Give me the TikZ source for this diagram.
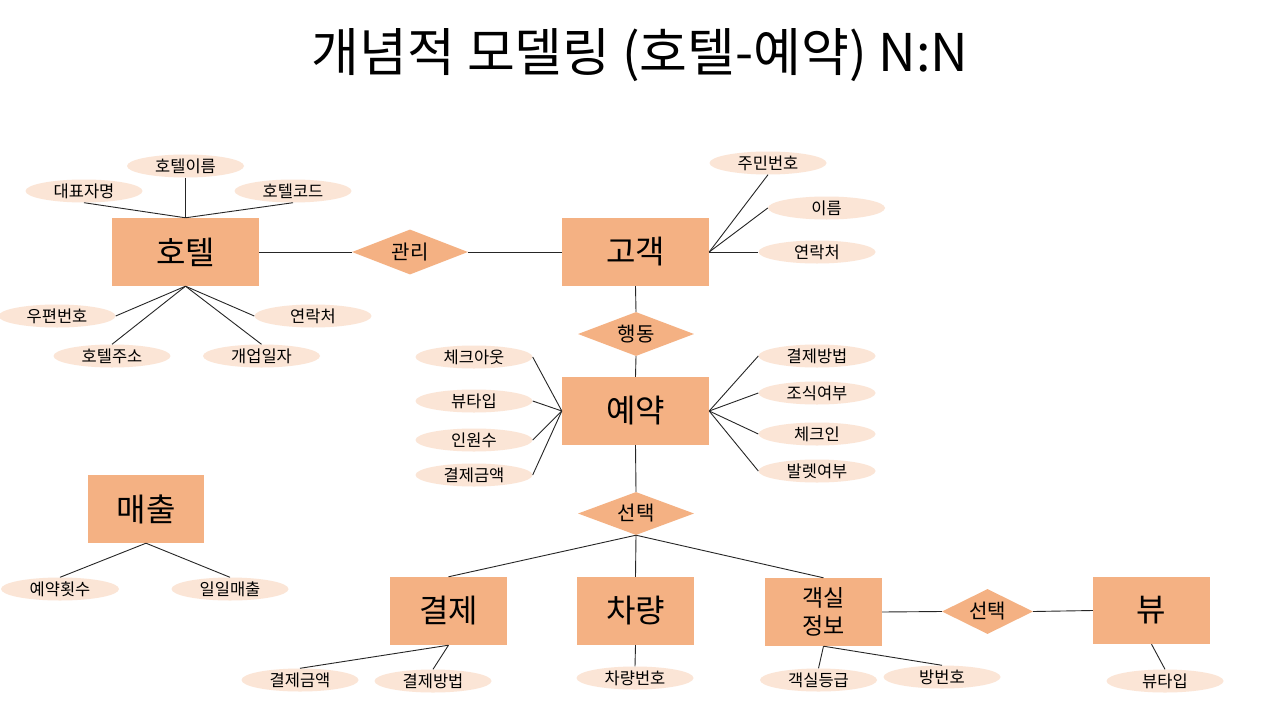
\documentclass[tikz,border=0pt]{standalone}
\usepackage{fontspec}
\setmainfont{Noto Sans CJK KR}
\usetikzlibrary{shapes.geometric}
\definecolor{entfill}{HTML}{F4B183}
\definecolor{attfill}{HTML}{FBE5D6}
\tikzset{
  entity/.style={rectangle, fill=entfill, minimum width=147pt, minimum height=68pt, inner sep=0pt, font=\fontsize{32}{36}\selectfont},
  sentity/.style={entity, minimum width=117pt},
  attr/.style={ellipse, fill=attfill, minimum width=117pt, minimum height=23pt, inner sep=0pt, font=\fontsize{16.5}{19}\selectfont},
  rel/.style={diamond, fill=entfill, aspect=2.6, minimum width=116pt, minimum height=44pt, inner sep=0pt, font=\fontsize{20}{23}\selectfont},
  link/.style={draw=black!85, line width=0.9pt}
}
\begin{document}
\begin{tikzpicture}[x=1pt,y=-1pt]
\fill[white] (0,0) rectangle (1280,720);
\useasboundingbox (0,0) rectangle (1280,720);

\node[font=\fontsize{52}{58}\selectfont] (title) at (640,55) {개념적 모델링 (호텔-예약) N:N};

% Hotel
\node[entity] (hotel) at (185.5,252) {호텔};
\node[attr] (hname) at (185.5,166) {호텔이름};
\node[attr] (hrep) at (84,191) {대표자명};
\node[attr] (hcode) at (293,191) {호텔코드};
\node[attr] (hzip) at (57,316) {우편번호};
\node[attr] (haddr) at (112,356) {호텔주소};
\node[attr] (hopen) at (261.5,356) {개업일자};
\node[attr] (htel) at (313,316) {연락처};

% Customer
\node[entity] (cust) at (635.5,252) {고객};
\node[attr] (cid) at (768,163) {주민번호};
\node[attr] (cname) at (826.5,208) {이름};
\node[attr] (ctel) at (817,252) {연락처};

\node[rel, minimum height=45pt] (manage) at (410,252) {관리};
\node[rel] (act) at (636,334) {행동};

% Reservation
\node[entity] (resv) at (635.5,411) {예약};
\node[attr] (rout) at (474,357) {체크아웃};
\node[attr] (rview) at (474,401) {뷰타입};
\node[attr] (rnum) at (474,440) {인원수};
\node[attr] (ramt) at (474,475) {결제금액};
\node[attr] (rpay) at (817,356) {결제방법};
\node[attr] (rbrk) at (817,393) {조식여부};
\node[attr] (rin) at (817,434) {체크인};
\node[attr] (rval) at (817,471) {발렛여부};

\node[rel, minimum height=43pt] (sel) at (636,513.5) {선택};

% Lower entities
\node[sentity] (pay) at (448.5,611) {결제};
\node[sentity] (car) at (635.5,611) {차량};
\node[sentity, font=\fontsize{23}{28}\selectfont, align=center] (room) at (823.5,612) {객실\\정보};
\node[rel, minimum width=91pt, minimum height=45pt, aspect=2] (sel2) at (987.5,611.5) {선택};
\node[sentity, minimum height=67pt] (view) at (1151.5,610.5) {뷰};

\node[attr] (pamt) at (300,680) {결제금액};
\node[attr] (pmeth) at (433,681) {결제방법};
\node[attr] (carno) at (635,678) {차량번호};
\node[attr] (rgrade) at (818.5,680) {객실등급};
\node[attr] (rno) at (942,677) {방번호};
\node[attr] (vtype) at (1165,681) {뷰타입};

% Sales
\node[sentity, minimum width=116pt] (sales) at (146,509) {매출};
\node[attr, minimum width=118pt] (scount) at (60,589) {예약횟수};
\node[attr] (sdaily) at (230,589) {일일매출};

% Connectors
\draw[link] (hotel.north) -- (hname.south);
\draw[link] (hotel.north) -- (hrep.south);
\draw[link] (hotel.north) -- (hcode.south);
\draw[link] (hotel.south) -- (hzip.east);
\draw[link] (hotel.south) -- (haddr.north);
\draw[link] (hotel.south) -- (hopen.north);
\draw[link] (hotel.south) -- (htel.west);
\draw[link] (hotel.east) -- (manage.west);
\draw[link] (manage.east) -- (cust.west);
\draw[link] (cust.east) -- (cid.south);
\draw[link] (cust.east) -- (cname.west);
\draw[link] (cust.east) -- (ctel.west);
\draw[link] (cust.south) -- (act.north);
\draw[link] (act.south) -- (resv.north);
\draw[link] (resv.west) -- (rout.east);
\draw[link] (resv.west) -- (rview.east);
\draw[link] (resv.west) -- (rnum.east);
\draw[link] (resv.west) -- (ramt.east);
\draw[link] (resv.east) -- (rpay.west);
\draw[link] (resv.east) -- (rbrk.west);
\draw[link] (resv.east) -- (rin.west);
\draw[link] (resv.east) -- (rval.west);
\draw[link] (resv.south) -- (sel.north);
\draw[link] (sel.south) -- (pay.north);
\draw[link] (sel.south) -- (car.north);
\draw[link] (sel.south) -- (room.north);
\draw[link] (room.east) -- (sel2.west);
\draw[link] (sel2.east) -- (view.west);
\draw[link] (pay.south) -- (pamt.north);
\draw[link] (pay.south) -- (pmeth.north);
\draw[link] (car.south) -- (carno.north);
\draw[link] (room.south) -- (rgrade.north);
\draw[link] (room.south) -- (rno.north);
\draw[link] (view.south) -- (vtype.north);
\draw[link] (sales.south) -- (scount.north);
\draw[link] (sales.south) -- (sdaily.north);
\end{tikzpicture}
\end{document}
